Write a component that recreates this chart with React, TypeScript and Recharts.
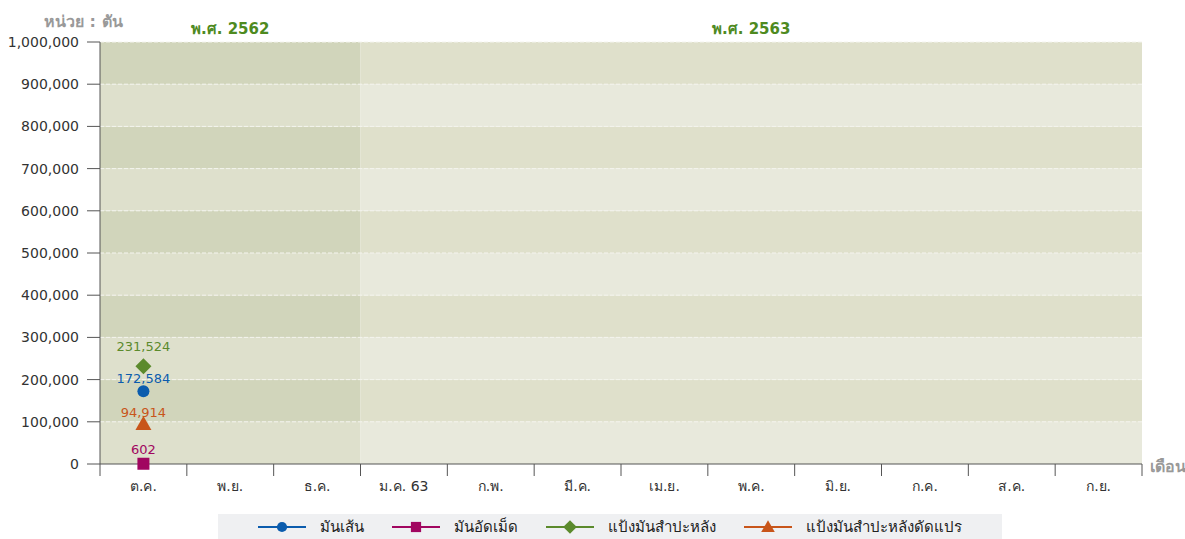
import React from 'react';
import { LineChart, Line, XAxis, YAxis, ReferenceArea, ReferenceLine, LabelList, Legend } from 'recharts';

const FONT = '"DejaVu Sans", Tahoma, "Noto Sans", sans-serif';

// months of the fiscal year (Oct 2562 - Sep 2563)
const months = ['ต.ค.', 'พ.ย.', 'ธ.ค.', 'ม.ค. 63', 'ก.พ.', 'มี.ค.', 'เม.ย.', 'พ.ค.', 'มิ.ย.', 'ก.ค.', 'ส.ค.', 'ก.ย.'];

// values in tonnes, only October has data so far
const cassavaChips = [172584, null, null, null, null, null, null, null, null, null, null, null];
const cassavaPellets = [602, null, null, null, null, null, null, null, null, null, null, null];
const cassavaStarch = [231524, null, null, null, null, null, null, null, null, null, null, null];
const modifiedStarch = [94914, null, null, null, null, null, null, null, null, null, null, null];

const yTicks = [0, 100000, 200000, 300000, 400000, 500000, 600000, 700000, 800000, 900000, 1000000];

const years = [
  { label: 'พ.ศ. 2562', start: 0, end: 3 },
  { label: 'พ.ศ. 2563', start: 3, end: 12 },
];

// [light, dark] stripe for each year block
const shades = [
  ['#dee0cc', '#d1d5bb'],
  ['#e8e9dc', '#dfe0cb'],
];

const series = [
  { key: 'chips', name: 'มันเส้น', color: '#0b5cad', shape: 'circle', labelOffset: 8 },
  { key: 'pellets', name: 'มันอัดเม็ด', color: '#a10660', shape: 'square', labelOffset: 10 },
  { key: 'starch', name: 'แป้งมันสำปะหลัง', color: '#5b8a2c', shape: 'diamond', labelOffset: 15 },
  { key: 'modified', name: 'แป้งมันสำปะหลังดัดแปร', color: '#c8551a', shape: 'triangle', labelOffset: 7 },
];

const fmt = (v: any) => (v == null ? '' : Number(v).toLocaleString('en-US'));

const Marker = ({ shape, cx, cy, color, s = 1 }: any) => {
  if (shape === 'circle') return <circle cx={cx} cy={cy} r={6 * s} fill={color} />;
  if (shape === 'square') return <rect x={cx - 6 * s} y={cy - 6 * s} width={12 * s} height={12 * s} fill={color} />;
  if (shape === 'diamond')
    return <polygon points={`${cx},${cy - 8 * s} ${cx + 8 * s},${cy} ${cx},${cy + 8 * s} ${cx - 8 * s},${cy}`} fill={color} />;
  return <polygon points={`${cx},${cy - 8 * s} ${cx + 8 * s},${cy + 6 * s} ${cx - 8 * s},${cy + 6 * s}`} fill={color} />;
};

const LegendBox = () => (
  <div
    style={{
      background: '#eff0f2',
      height: 25,
      display: 'flex',
      alignItems: 'center',
      justifyContent: 'center',
      fontFamily: FONT,
      fontSize: 15,
      color: '#222',
    }}
  >
    {series.map((s) => (
      <div key={s.key} style={{ display: 'flex', alignItems: 'center', margin: '0 14px' }}>
        <svg width={48} height={16}>
          <line x1={0} y1={8} x2={48} y2={8} stroke={s.color} strokeWidth={2} />
          <Marker shape={s.shape} cx={24} cy={8} color={s.color} s={0.85} />
        </svg>
        <span style={{ marginLeft: 14 }}>{s.name}</span>
      </div>
    ))}
  </div>
);

export default function App() {
  const data = months.map((m, i) => ({
    x: i + 0.5,
    month: m,
    chips: cassavaChips[i],
    pellets: cassavaPellets[i],
    starch: cassavaStarch[i],
    modified: modifiedStarch[i],
  }));

  return (
    <div style={{ position: 'absolute', left: 0, top: 0, width: 1185, height: 539, background: '#fff', fontFamily: FONT }}>
      <LineChart width={1185} height={539} data={data} margin={{ top: 42, right: 43, bottom: 0, left: 0 }}>
        {years.map((yr, yi) =>
          yTicks.slice(0, -1).map((t, ti) => (
            <ReferenceArea
              key={`band-${yi}-${ti}`}
              xAxisId="b"
              x1={yr.start}
              x2={yr.end}
              y1={t}
              y2={t + 100000}
              fill={shades[yi][ti % 2]}
              fillOpacity={1}
              stroke="none"
              label={
                ti === 9
                  ? { value: yr.label, position: 'top', offset: 8, fill: '#4e8a1f', fontWeight: 'bold', fontSize: 15 }
                  : undefined
              }
            />
          ))
        )}
        {yTicks.slice(1).map((t) => (
          <ReferenceLine key={`grid-${t}`} xAxisId="b" y={t} stroke="#f4f4ee" strokeDasharray="4 2" strokeWidth={1} />
        ))}
        <XAxis
          xAxisId="a"
          dataKey="x"
          type="number"
          domain={[0, 12]}
          allowDataOverflow
          ticks={[0, 1, 2, 3, 4, 5, 6, 7, 8, 9, 10, 11, 12]}
          interval={0}
          tickSize={12}
          tick={() => <g />}
          height={12}
          axisLine={{ stroke: '#555' }}
          tickLine={{ stroke: '#555' }}
        />
        <XAxis
          xAxisId="b"
          dataKey="x"
          type="number"
          domain={[0, 12]}
          allowDataOverflow
          ticks={[0.5, 1.5, 2.5, 3.5, 4.5, 5.5, 6.5, 7.5, 8.5, 9.5, 10.5, 11.5]}
          interval={0}
          tickFormatter={(v: number) => months[Math.floor(v)]}
          axisLine={false}
          tickLine={false}
          tickSize={0}
          tickMargin={5}
          height={38}
          tick={{ fill: '#333', fontSize: 14 }}
        />
        <YAxis
          type="number"
          domain={[0, 1000000]}
          ticks={yTicks}
          width={100}
          tickSize={13}
          tickMargin={8}
          tickFormatter={fmt}
          axisLine={{ stroke: '#555' }}
          tickLine={{ stroke: '#555' }}
          tick={{ fill: '#333', fontSize: 14 }}
        />
        <Legend
          verticalAlign="bottom"
          height={25}
          wrapperStyle={{ left: 218, width: 784 }}
          content={() => <LegendBox />}
        />
        {series.map((s) => (
          <Line
            key={s.key}
            xAxisId="b"
            dataKey={s.key}
            name={s.name}
            stroke={s.color}
            strokeWidth={2}
            isAnimationActive={false}
            dot={(p: any) =>
              p.value == null || p.cy == null ? (
                <g key={`${s.key}-${p.index}`} />
              ) : (
                <Marker key={`${s.key}-${p.index}`} shape={s.shape} cx={p.cx} cy={p.cy} color={s.color} />
              )
            }
          >
            <LabelList dataKey={s.key} position="top" offset={s.labelOffset} fill={s.color} fontSize={13} formatter={fmt} />
          </Line>
        ))}
      </LineChart>
      <div style={{ position: 'absolute', left: 44, top: 9, color: '#999', fontWeight: 'bold', fontSize: 16 }}>หน่วย : ตัน</div>
      <div style={{ position: 'absolute', left: 1150, top: 454, color: '#999', fontWeight: 'bold', fontSize: 16, whiteSpace: 'nowrap' }}>
        เดือน
      </div>
    </div>
  );
}
